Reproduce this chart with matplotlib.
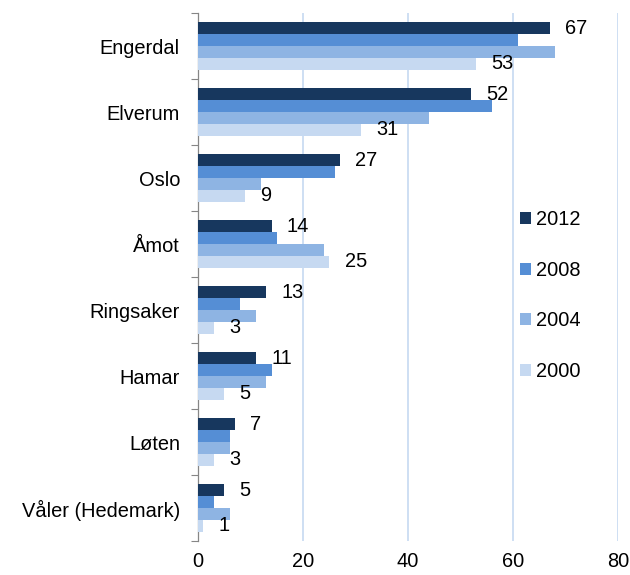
import matplotlib
matplotlib.use("Agg")
import matplotlib.pyplot as plt
from matplotlib.patches import Patch
import numpy as np

plt.rcParams['font.family'] = ['Liberation Sans', 'DejaVu Sans']

categories = ["Engerdal", "Elverum", "Oslo", "Åmot", "Ringsaker", "Hamar", "Løten", "Våler (Hedemark)"]
series_names = ["2012", "2008", "2004", "2000"]
v2012 = [67, 52, 27, 14, 13, 11, 7, 5]
v2008 = [61, 56, 26, 15, 8, 14, 6, 3]
v2004 = [68, 44, 12, 24, 11, 13, 6, 6]
v2000 = [53, 31, 9, 25, 3, 5, 3, 1]
values = [v2012, v2008, v2004, v2000]
colors = ["#17375E", "#558ED5", "#8EB4E3", "#C6D9F1"]
labelled = {"2012", "2000"}
xticks = [0, 20, 40, 60, 80]

fig = plt.figure(figsize=(6.3, 5.75), dpi=100)
ax = fig.add_axes([198/630, 34/575, 420/630, 528/575])

y = np.arange(len(categories))
h = 0.18
offsets = [-1.5*h, -0.5*h, 0.5*h, 1.5*h]
fs = 14.4
for name, vals, col, off in zip(series_names, values, colors, offsets):
    bars = ax.barh(y + off, vals, height=h, color=col, zorder=3)
    if name in labelled:
        for yy, v in zip(y + off, vals):
            ax.annotate(str(v), (v, yy), xytext=(11, 0), textcoords="offset points",
                        ha="left", va="center", fontsize=fs, color="black", zorder=4)

ax.set_xlim(0, 80)
ax.set_ylim(len(categories) - 0.5, -0.5)
ax.set_xticks(xticks)
ax.set_xticklabels([str(t) for t in xticks], fontsize=fs)
ax.tick_params(axis="x", length=0, pad=8)
ax.grid(axis="x", color="#C6D9F1", linewidth=1.2, zorder=0)

ax.set_yticks(np.arange(len(categories) + 1) - 0.5)
ax.set_yticklabels([])
ax.set_yticks(y, minor=True)
ax.set_yticklabels(categories, minor=True, fontsize=fs)
ax.tick_params(axis="y", which="major", length=5, width=0.8, color="#868686", direction="out")
ax.tick_params(axis="y", which="minor", length=0, pad=13)

for s in ["top", "right", "bottom"]:
    ax.spines[s].set_visible(False)
ax.spines["left"].set_color("#868686")
ax.spines["left"].set_linewidth(0.9)

handles = [Patch(facecolor=c, edgecolor="none") for c in colors]
fig.legend(handles, series_names, loc="center left",
           bbox_to_anchor=(520/630, 1 - 295.5/575), bbox_transform=fig.transFigure,
           frameon=False, fontsize=fs, handlelength=0.55, handleheight=0.55,
           handletextpad=0.25, labelspacing=1.58, borderpad=0, borderaxespad=0)

fig.savefig("out.png", dpi=100)
